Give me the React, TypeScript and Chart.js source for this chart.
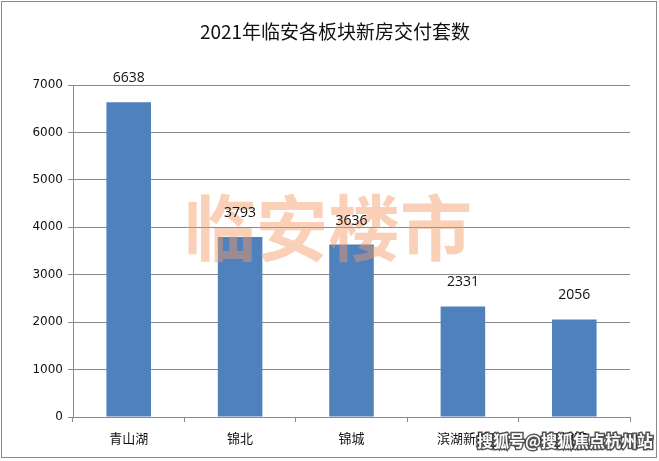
import React, { useEffect, useRef } from "react";
import { Chart, registerables } from "chart.js";

Chart.register(...registerables);

const chartTitle = "2021年临安各板块新房交付套数";
const categories = ["青山湖", "锦北", "锦城", "滨湖新城", "锦南"];
const deliveredUnits = [6638, 3793, 3636, 2331, 2056];
const yMin = 0;
const yMax = 7000;
const yStep = 1000;
const watermarkMain = "临安楼市";
const watermarkSource = "搜狐号@搜狐焦点杭州站";

const GRID = "#898989";
const BAR = "#4f81bd";
const CJK = '"Noto Sans CJK SC", "Noto Sans", sans-serif';

const overlayPlugin = {
  id: "overlay",
  afterDatasetsDraw(chart: any) {
    const ctx = chart.ctx;
    const meta = chart.getDatasetMeta(0);
    ctx.save();
    // watermark
    ctx.globalAlpha = 0.45;
    ctx.fillStyle = "#f59a62";
    ctx.font = "bold 72px " + CJK;
    ctx.textAlign = "center";
    ctx.textBaseline = "middle";
    ctx.fillText(watermarkMain, 328, 228);
    ctx.globalAlpha = 1;
    // data labels
    ctx.fillStyle = "#111";
    ctx.font = '14px "Open Sans", sans-serif';
    meta.data.forEach((bar: any, i: number) => {
      ctx.fillText(String(deliveredUnits[i]), bar.x, bar.y - 24);
    });
    ctx.restore();
  },
  afterDraw(chart: any) {
    const ctx = chart.ctx;
    ctx.save();
    // title
    ctx.fillStyle = "#111";
    ctx.font = "19px " + CJK;
    ctx.textAlign = "center";
    ctx.textBaseline = "middle";
    ctx.fillText(chartTitle, 335, 32);
    // outer border
    ctx.strokeStyle = "#8c8c8c";
    ctx.lineWidth = 1;
    ctx.strokeRect(1.5, 1.5, 655, 456);
    // source watermark
    ctx.font = "bold 16px " + CJK;
    ctx.textAlign = "right";
    ctx.textBaseline = "middle";
    ctx.lineWidth = 3;
    ctx.strokeStyle = "rgba(40,40,40,0.8)";
    ctx.strokeText(watermarkSource, 653, 441);
    ctx.fillStyle = "#ffffff";
    ctx.fillText(watermarkSource, 653, 441);
    ctx.restore();
  },
};

export default function App() {
  const canvasRef = useRef<HTMLCanvasElement | null>(null);

  useEffect(() => {
    document.body.style.margin = "0";
    const canvas = canvasRef.current;
    if (!canvas) return;
    const chart = new Chart(canvas, {
      type: "bar",
      data: {
        labels: categories,
        datasets: [
          {
            data: deliveredUnits,
            backgroundColor: BAR,
            borderWidth: 0,
            barPercentage: 0.4,
            categoryPercentage: 1,
          },
        ],
      },
      options: {
        animation: false,
        responsive: false,
        maintainAspectRatio: false,
        devicePixelRatio: 1,
        layout: { padding: { left: 0, top: 85, right: 29, bottom: 0 } },
        plugins: {
          legend: { display: false },
          title: { display: false },
          tooltip: { enabled: false },
        },
        scales: {
          x: {
            offset: true,
            afterFit: (scale: any) => {
              scale.height = 44;
            },
            grid: {
              display: true,
              offset: true,
              drawOnChartArea: false,
              drawTicks: true,
              tickLength: 5,
              color: GRID,
              tickColor: GRID,
            },
            border: { display: true, color: GRID, width: 1 },
            ticks: {
              color: "#111",
              padding: 8,
              font: { family: CJK, size: 13 },
              maxRotation: 0,
              autoSkip: false,
            },
          },
          y: {
            min: yMin,
            max: yMax,
            afterFit: (scale: any) => {
              scale.width = 73;
            },
            grid: {
              color: GRID,
              tickColor: GRID,
              drawTicks: true,
              tickLength: 5,
            },
            border: { display: true, color: GRID, width: 1 },
            ticks: {
              stepSize: yStep,
              color: "#111",
              padding: 5,
              font: { family: '"DejaVu Sans", sans-serif', size: 12 },
              callback: (v: any) => String(v),
            },
          },
        },
      },
      plugins: [overlayPlugin],
    });
    return () => chart.destroy();
  }, []);

  return (
    <div style={{ position: "absolute", left: 0, top: 0, width: 659, height: 461, background: "#fff" }}>
      <canvas ref={canvasRef} width={659} height={461} style={{ width: 659, height: 461, display: "block" }} />
    </div>
  );
}
